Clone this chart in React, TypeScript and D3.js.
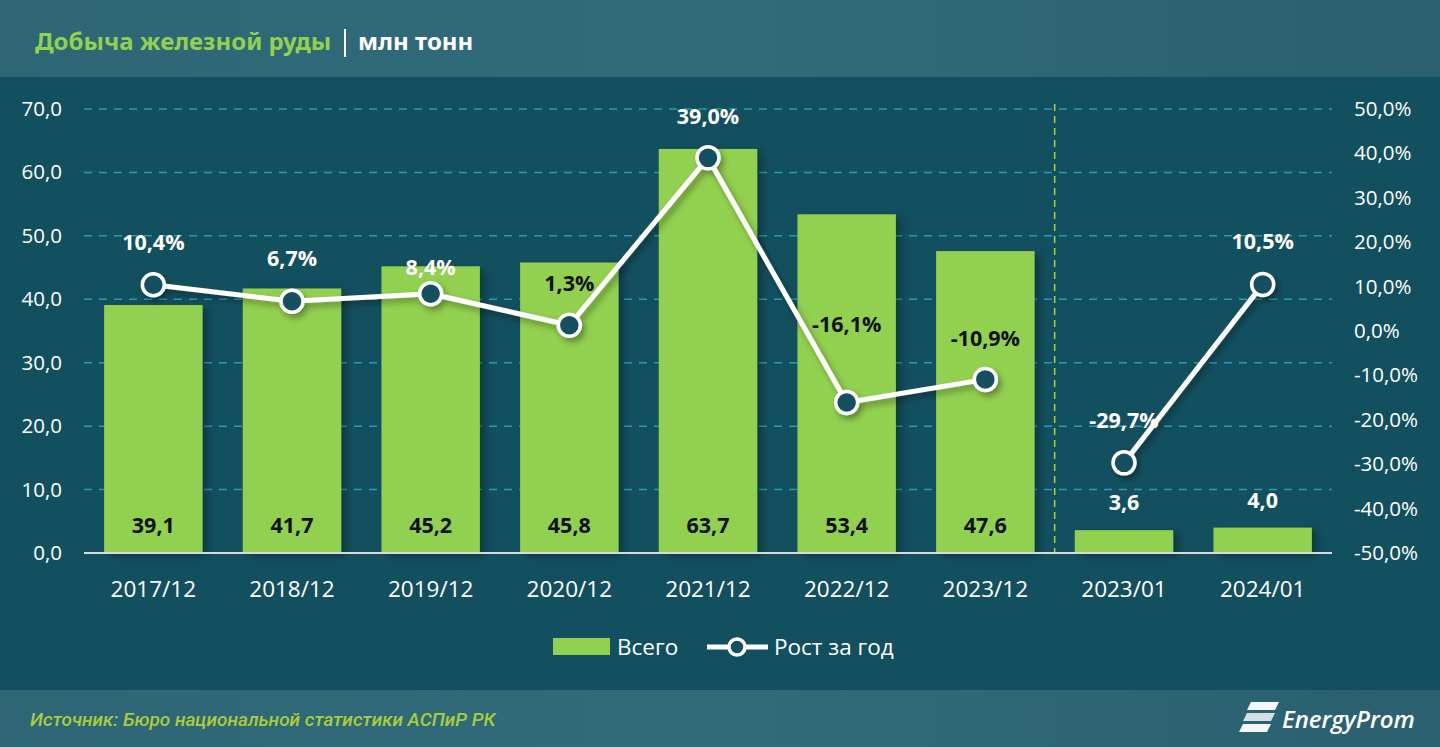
import React from "react";
import * as d3 from "d3";

const categories = ["2017/12", "2018/12", "2019/12", "2020/12", "2021/12", "2022/12", "2023/12", "2023/01", "2024/01"];
const totals = [39.1, 41.7, 45.2, 45.8, 63.7, 53.4, 47.6, 3.6, 4.0];
const growth = [10.4, 6.7, 8.4, 1.3, 39.0, -16.1, -10.9, -29.7, 10.5];
const period = ["year", "year", "year", "year", "year", "year", "year", "month", "month"];
const leftTicks = [0, 10, 20, 30, 40, 50, 60, 70];
const rightTicks = [-50, -40, -30, -20, -10, 0, 10, 20, 30, 40, 50];
// label vertical offsets above points (style)
const growthLabelDy = [-43, -43, -27, -42, -42, -78, -41, -43, -43];

const W = 1440;
const H = 747;
const BG = "#13505f";
const GREEN = "#92d050";
const FONT = "'Open Sans', 'Noto Sans', sans-serif";
const fmt = (v: number, d = 1) => v.toFixed(d).replace(".", ",");

export default function App() {
  const top = 109, bottom = 553, left = 84, right = 1332;
  const x = d3.scaleBand<string>().domain(categories).range([left, right]).paddingInner(0.29).paddingOuter(0.145);
  const yL = d3.scaleLinear().domain([0, 70]).range([bottom, top]);
  const yR = d3.scaleLinear().domain([-50, 50]).range([bottom, top]);
  const cx = (i: number) => (x(categories[i]) as number) + x.bandwidth() / 2;

  const line = d3.line<number>().x((i) => cx(i)).y((i) => yR(growth[i]));
  const groups = Array.from(new Set(period)).map((p) => categories.map((_, i) => i).filter((i) => period[i] === p));

  const sepX = ((x(categories[6]) as number) + x.bandwidth() + (x(categories[7]) as number)) / 2;

  return (
    <div style={{ position: "fixed", left: 0, top: 0 }}>
      <svg width={W} height={H} style={{ display: "block" }} fontFamily={FONT}>
        <defs>
          <linearGradient id="hdr" x1="0" x2="1" y1="0" y2="0">
            <stop offset="0" stopColor="#2e6676" />
            <stop offset="0.5" stopColor="#316b7a" />
            <stop offset="1" stopColor="#2a6070" />
          </linearGradient>
          <filter id="shadow" x="-20%" y="-20%" width="140%" height="160%">
            <feDropShadow dx="3" dy="4" stdDeviation="3" floodColor="#000" floodOpacity="0.35" />
          </filter>
          <filter id="barShadow" x="-10%" y="-5%" width="130%" height="110%">
            <feDropShadow dx="5" dy="3" stdDeviation="4" floodColor="#000" floodOpacity="0.3" />
          </filter>
        </defs>
        <rect x={0} y={0} width={W} height={H} fill={BG} />
        <rect x={0} y={0} width={W} height={77} fill="url(#hdr)" />
        <rect x={0} y={690} width={W} height={57} fill="url(#hdr)" />

        {/* title */}
        <text x={35} y={50} fontSize={24} fontWeight={700} fill={GREEN} style={{ fontFamily: "'Noto Sans', sans-serif" }}>
          Добыча железной руды
        </text>
        <line x1={345} x2={345} y1={29} y2={57} stroke="#ffffff" strokeWidth={2} />
        <text x={358} y={50} fontSize={24} fontWeight={700} fill="#ffffff" style={{ fontFamily: "'Noto Sans', sans-serif" }}>
          млн тонн
        </text>

        {/* gridlines */}
        {leftTicks.filter((t) => t !== 0).map((t) => (
          <line key={t} x1={left} x2={right} y1={yL(t)} y2={yL(t)} stroke="#2a9ab3" strokeWidth={1.5} strokeDasharray="8 7" />
        ))}
        {/* separator */}
        <line x1={sepX} x2={sepX} y1={top - 5} y2={bottom} stroke="#b5d334" strokeWidth={1.5} strokeDasharray="7 5" />

        {/* bars */}
        <g filter="url(#barShadow)">
          {totals.map((v, i) => (
            <rect key={i} x={x(categories[i])} y={yL(v)} width={x.bandwidth()} height={yL(0) - yL(v)} fill={GREEN} />
          ))}
        </g>
        <line x1={left} x2={right} y1={bottom} y2={bottom} stroke="#d9d9d9" strokeWidth={2} />

        {/* bar labels */}
        {totals.map((v, i) => {
          const inside = yL(0) - yL(v) > 60;
          return (
            <text key={i} x={cx(i)} y={inside ? 533 : yL(v) - 20} textAnchor="middle" fontSize={21.5} fontWeight={700} fill={inside ? "#111" : "#fff"}>
              {fmt(v)}
            </text>
          );
        })}

        {/* line */}
        <g filter="url(#shadow)">
          {groups.map((g, k) => (
            <path key={k} d={line(g) || ""} fill="none" stroke="#fff" strokeWidth={5} strokeLinejoin="round" />
          ))}
          {growth.map((v, i) => (
            <circle key={i} cx={cx(i)} cy={yR(v)} r={11} fill={BG} stroke="#fff" strokeWidth={3.5} />
          ))}
        </g>
        {growth.map((v, i) => {
          const ly = yR(v) + growthLabelDy[i];
          const insideBar = ly - 8 > yL(totals[i]);
          return (
            <text key={i} x={cx(i)} y={ly + 8} textAnchor="middle" fontSize={21.5} fontWeight={700} fill={insideBar ? "#111" : "#fff"}>
              {fmt(v)}%
            </text>
          );
        })}

        {/* left axis */}
        {leftTicks.map((t) => (
          <text key={t} x={62} y={yL(t) + 7} textAnchor="end" fontSize={20.5} fill="#fff">
            {fmt(t)}
          </text>
        ))}
        {/* right axis */}
        {rightTicks.map((t) => (
          <text key={t} x={1354} y={yR(t) + 7} textAnchor="start" fontSize={20.5} fill="#fff">
            {fmt(t)}%
          </text>
        ))}
        {/* x axis labels */}
        {categories.map((c, i) => (
          <text key={c} x={cx(i)} y={597} textAnchor="middle" fontSize={22.5} fill="#fff">
            {c}
          </text>
        ))}

        {/* legend */}
        <rect x={553} y={638} width={57} height={17} fill={GREEN} />
        <text x={617} y={655} fontSize={22.5} fill="#fff">Всего</text>
        <line x1={707} x2={768} y1={647} y2={647} stroke="#fff" strokeWidth={5} />
        <circle cx={737} cy={647} r={8} fill={BG} stroke="#fff" strokeWidth={3.5} />
        <text x={774} y={655} fontSize={22.5} fill="#fff">Рост за год</text>

        {/* source */}
        <text x={30} y={726} fontSize={19} fontStyle="italic" fontWeight={500} fill="#a9cd3c" style={{ fontFamily: "'Roboto', sans-serif" }}>
          Источник: Бюро национальной статистики АСПиР РК
        </text>

        {/* logo */}
        <g fill="#ffffff">
          <path d="M1251,702 L1279,702 L1275,710 L1247,710 Z" opacity={0.95} />
          <path d="M1247,713 L1275,713 L1271,721 L1243,721 Z" opacity={0.8} />
          <path d="M1243,724 L1271,724 L1267,732 L1239,732 Z" opacity={0.95} />
        </g>
        <text x={1282} y={728} fontSize={24} fontStyle="italic" fontWeight={600} fill="#fff" style={{ fontFamily: "'Open Sans', sans-serif" }}>
          EnergyProm
        </text>
      </svg>
    </div>
  );
}
